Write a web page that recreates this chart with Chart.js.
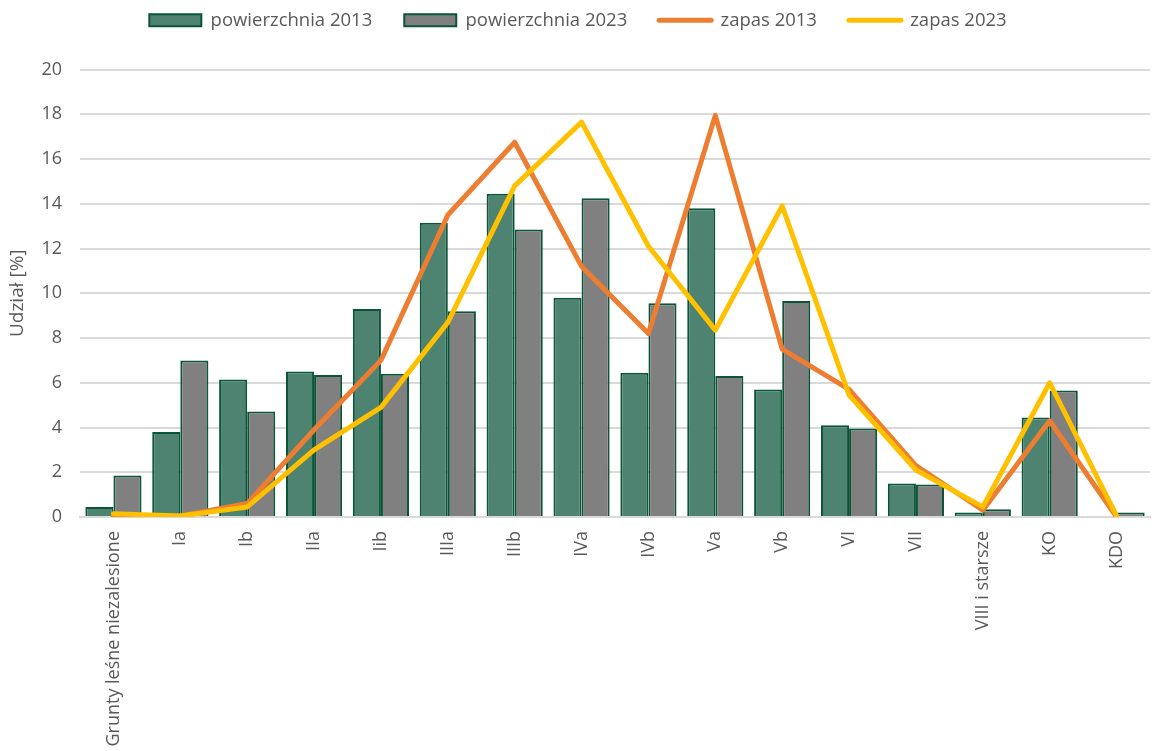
<!DOCTYPE html>
<html>
<head>
<meta charset="utf-8">
<script src="https://cdn.jsdelivr.net/npm/chart.js@4/dist/chart.umd.min.js"></script>
<style>
  html, body { margin: 0; padding: 0; background: #fff; }
  #wrap { width: 1156px; height: 751px; }
</style>
</head>
<body>
<div id="wrap"><canvas id="mixchart" width="1156" height="751"></canvas></div>
<script>
// klasy wieku
var labels = ["Grunty leśne niezalesione", "Ia", "Ib", "IIa", "Iib", "IIIa", "IIIb", "IVa", "IVb", "Va", "Vb", "VI", "VII", "VIII i starsze", "KO", "KDO"];
var powierzchnia2013 = [0.45, 3.8, 6.15, 6.5, 9.3, 13.15, 14.45, 9.8, 6.45, 13.8, 5.7, 4.1, 1.5, 0.2, 4.45, 0];
var powierzchnia2023 = [1.85, 7.0, 4.72, 6.35, 6.4, 9.2, 12.85, 14.25, 9.55, 6.3, 9.65, 3.95, 1.45, 0.35, 5.65, 0.2];
var zapas2013 = [0.05, 0.05, 0.6, 3.9, 7.0, 13.5, 16.75, 11.2, 8.2, 17.95, 7.5, 5.7, 2.3, 0.3, 4.3, 0];
var zapas2023 = [0.15, 0.05, 0.45, 3.0, 4.9, 8.7, 14.8, 17.65, 12.1, 8.35, 13.9, 5.45, 2.1, 0.45, 6.0, 0.05];
var yTicks = [0, 2, 4, 6, 8, 10, 12, 14, 16, 18, 20];

var FONT = "'Open Sans', sans-serif";
var TXT = '#595959';

var ctx = document.getElementById("mixchart");
var mixchart = new Chart(ctx, {
	type: 'bar',
	data: {
		labels: labels,
		datasets: [{
			label: 'powierzchnia 2013',
			data: powierzchnia2013,
			backgroundColor: '#4E8371',
			borderColor: '#0A5538',
			borderWidth: 2,
			borderSkipped: 'bottom',
			order: 2
		}, {
			label: 'powierzchnia 2023',
			data: powierzchnia2023,
			backgroundColor: '#808080',
			borderColor: '#0A5538',
			borderWidth: 2,
			borderSkipped: 'bottom',
			order: 2
		}, {
			type: 'line',
			label: 'zapas 2013',
			data: zapas2013,
			borderColor: '#ED7D31',
			backgroundColor: '#ED7D31',
			borderWidth: 5,
			borderCapStyle: 'round',
			borderJoinStyle: 'round',
			pointRadius: 0,
			tension: 0,
			order: 1
		}, {
			type: 'line',
			label: 'zapas 2023',
			data: zapas2023,
			borderColor: '#FFC000',
			backgroundColor: '#FFC000',
			borderWidth: 5,
			borderCapStyle: 'round',
			borderJoinStyle: 'round',
			pointRadius: 0,
			tension: 0,
			order: 0
		}]
	},
	options: {
		responsive: false,
		animation: false,
		layout: { padding: { left: 6, right: 6, top: -21, bottom: 0 } },
		datasets: {
			bar: { categoryPercentage: 0.84, barPercentage: 1.0 }
		},
		plugins: {
			tooltip: { enabled: false },
			legend: {
				position: 'top',
				labels: {
					usePointStyle: true,
					pointStyleWidth: 52,
					boxWidth: 52,
					boxHeight: 12,
					padding: 32,
					color: TXT,
					font: { family: FONT, size: 18.5 },
					generateLabels: function (chart) {
						var items = Chart.defaults.plugins.legend.labels.generateLabels(chart);
						items.sort(function (a, b) { return a.datasetIndex - b.datasetIndex; });
						items.forEach(function (it) {
							var isLine = it.datasetIndex >= 2;
							it.pointStyle = isLine ? 'line' : 'rect';
							if (isLine) { it.lineWidth = 5; it.lineCap = 'round'; }
						});
						return items;
					}
				}
			}
		},
		scales: {
			x: {
				grid: { display: false },
				border: { display: true, color: '#D9D9D9', width: 2 },
				ticks: {
					color: TXT,
					font: { family: FONT, size: 18 },
					minRotation: 90,
					maxRotation: 90,
					autoSkip: false,
					padding: 6
				},
				afterFit: function (scale) { scale.height = 234; }
			},
			xTop: {
				position: 'top',
				grid: { display: false, drawTicks: false },
				border: { display: false },
				ticks: { display: false },
				afterFit: function (scale) { scale.height = 30; }
			},
			y: {
				min: 0,
				max: 20,
				afterBuildTicks: function (scale) {
					scale.ticks = yTicks.map(function (v) { return { value: v }; });
				},
				grid: { color: '#D9D9D9', lineWidth: 2, drawTicks: false },
				border: { display: false },
				ticks: {
					color: TXT,
					font: { family: FONT, size: 18 },
					padding: 18
				},
				title: {
					display: true,
					text: 'Udział [%]',
					color: TXT,
					font: { family: FONT, size: 19 },
					padding: { top: 0, bottom: 4 }
				},
				afterFit: function (scale) { scale.width = 74; }
			}
		}
	}
});
</script>
</body>
</html>
